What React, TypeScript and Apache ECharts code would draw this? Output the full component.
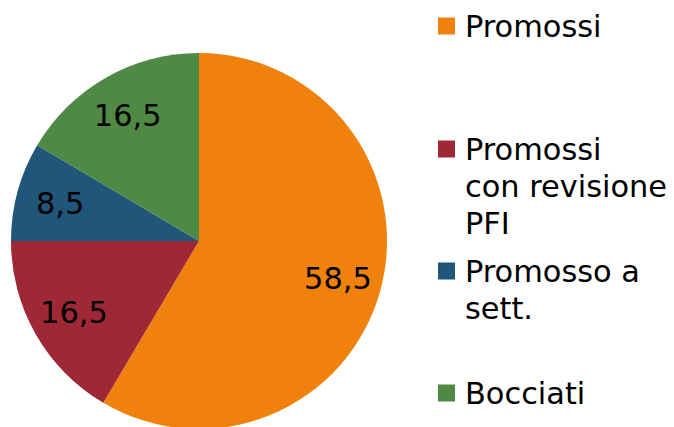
import React, { useEffect, useRef } from "react";
import * as echarts from "echarts";

const categories = ["Promossi", "Promossi\ncon revisione\nPFI", "Promosso a\nsett.", "Bocciati"];
const values = [58.5, 16.5, 8.5, 16.5];
const colors = ["#EF810C", "#9E2836", "#1F567A", "#4F8945"];

const FONT = "'DejaVu Sans', Verdana, sans-serif";

export default function App() {
  const ref = useRef<HTMLDivElement>(null);
  useEffect(() => {
    if (!ref.current) return;
    const chart = echarts.init(ref.current, undefined, { renderer: "svg" });
    const data = categories.map((name, i) => ({ name, value: values[i], itemStyle: { color: colors[i] } }));
    const legendTops = [7.5, 56.5, 215.5, 374.5];
    chart.setOption({
      animation: false,
      legend: categories.map((name, i) => ({
        data: [name],
        left: 438,
        top: legendTops[i],
        padding: 0,
        icon: "rect",
        itemWidth: 17,
        itemHeight: 17,
        selectedMode: false,
        formatter: (n: string) => "\n".repeat(n.split("\n").length - 1) + n,
        textStyle: {
          fontFamily: FONT,
          fontSize: 30.4,
          lineHeight: 37,
          color: "#000",
          padding: [0, 0, 0, 5],
        },
      })),
      series: [
        {
          type: "pie",
          center: [199, 241],
          radius: 188,
          startAngle: 90,
          clockwise: true,
          silent: true,
          label: { show: false },
          labelLine: { show: false },
          data,
        },
        {
          type: "pie",
          center: [199, 241],
          radius: [92, 190],
          startAngle: 90,
          clockwise: true,
          silent: true,
          itemStyle: { color: "transparent" },
          label: {
            show: true,
            position: "inside",
            fontFamily: FONT,
            fontSize: 30.4,
            color: "#000",
            formatter: (p: any) => String(p.value).replace(".", ","),
          },
          labelLine: { show: false },
          data: categories.map((name, i) => ({ name, value: values[i], itemStyle: { color: "transparent" } })),
        },
      ],
    });
    return () => chart.dispose();
  }, []);
  return (
    <div
      ref={ref}
      style={{ position: "fixed", left: 0, top: 0, width: 674, height: 427, background: "#fff" }}
    />
  );
}
